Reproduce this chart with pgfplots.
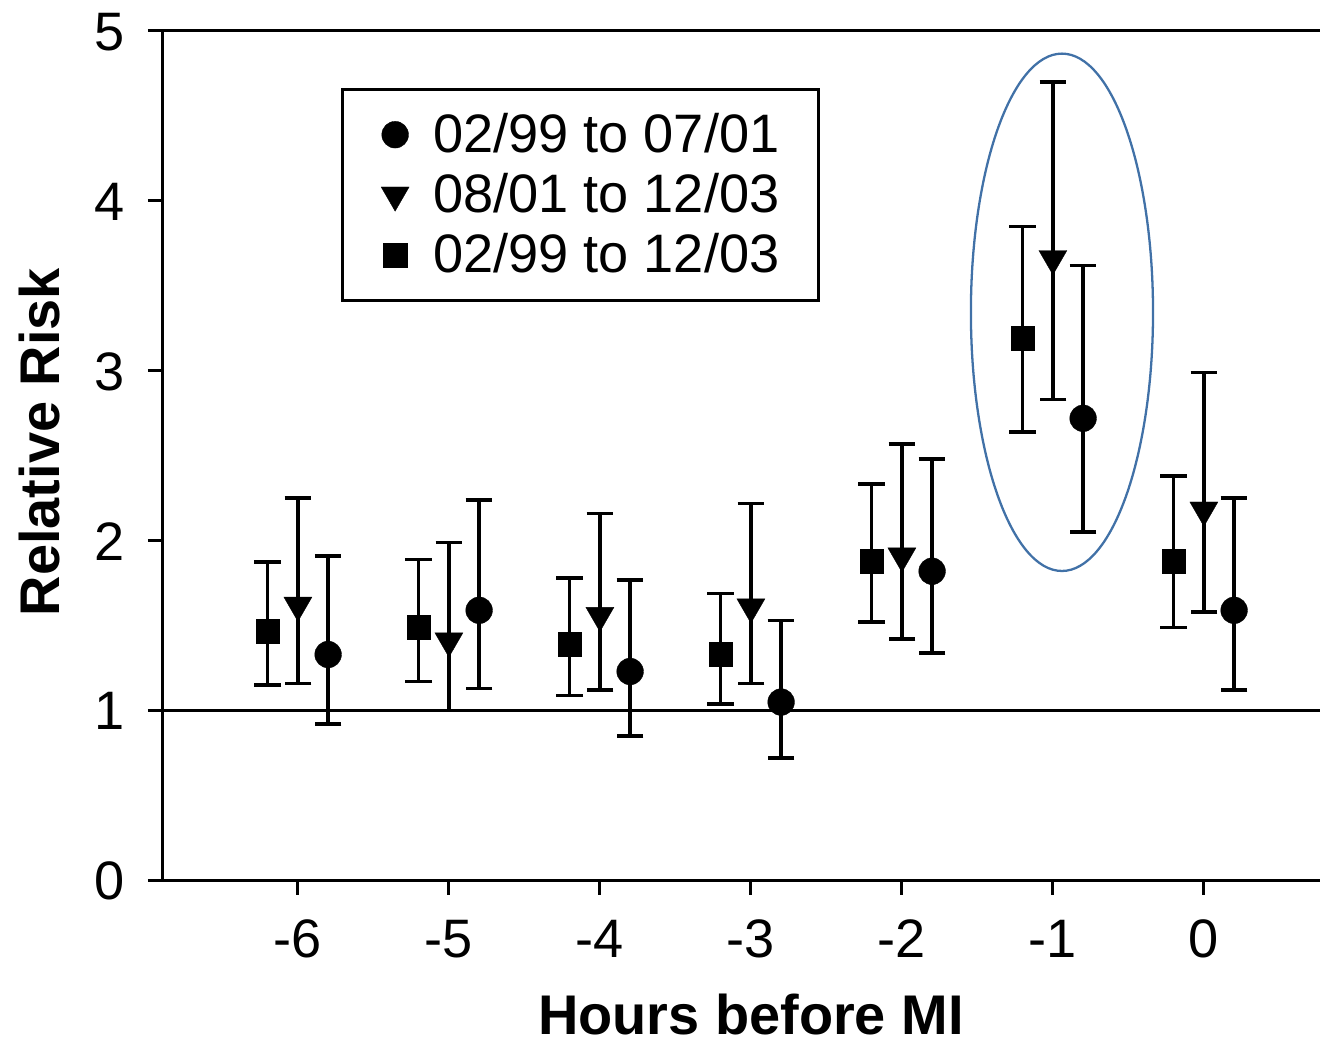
\documentclass[border=0pt]{standalone}
\usepackage{fontspec}
\setmainfont{Liberation Sans}
\usepackage{pgfplots}
\usepackage{pgfplotstable}
\pgfplotsset{compat=1.18}

\definecolor{ringblue}{RGB}{65,113,167}
\newcommand{\lbl}{\fontsize{15.4}{18}\selectfont}
\newcommand{\blbl}{\fontsize{15.9}{18}\selectfont\bfseries}

% x = hour + offset, y = relative risk, lo/hi = confidence limits
\pgfplotstableread{
x     y     lo    hi
-5.8  1.33  0.92  1.91
-4.8  1.59  1.13  2.24
-3.8  1.23  0.85  1.77
-2.8  1.05  0.72  1.53
-1.8  1.82  1.34  2.48
-0.8  2.72  2.05  3.62
 0.2  1.59  1.12  2.25
}\earlydata

\pgfplotstableread{
x     y     lo    hi
-6    1.62  1.16  2.25
-5    1.41  1.00  1.99
-4    1.56  1.12  2.16
-3    1.61  1.16  2.22
-2    1.91  1.42  2.57
-1    3.66  2.83  4.70
 0    2.18  1.58  2.99
}\latedata

\pgfplotstableread{
x     y     lo    hi
-6.2  1.465 1.15  1.875
-5.2  1.49  1.17  1.89
-4.2  1.39  1.09  1.78
-3.2  1.33  1.04  1.69
-2.2  1.88  1.52  2.335
-1.2  3.19  2.64  3.85
-0.2  1.88  1.49  2.38
}\alldata

\pgfplotsset{
  ebar/.style={
    forget plot, only marks,
    error bars/y dir=both, error bars/y explicit,
    error bars/error bar style={line width=1pt, black},
    error bars/error mark options={rotate=90, line width=1pt, black, mark size=3.8pt},
  },
}

\begin{document}
\begin{tikzpicture}
\begin{axis}[
  scale only axis, width=11.77cm, height=8.49cm,
  xmin=-6.9, xmax=0.9, ymin=0, ymax=5,
  clip=false,
  axis x line=bottom, axis y line=left,
  axis line style={-, line width=0.85pt, black},
  xtick={-6,...,0}, xticklabels={-6,-5,-4,-3,-2,-1,0},
  ytick={0,...,5}, yticklabels={0,1,2,3,4,5},
  tick align=outside, major tick length=4pt,
  tick style={line width=0.85pt, black},
  tick label style={font=\lbl, inner sep=0pt, text height=11pt, text depth=0pt},
  xticklabel style={anchor=north, yshift=-6.8pt},
  yticklabel style={anchor=east, xshift=-6.5pt},
  xlabel={Hours before MI}, ylabel={Relative Risk},
  label style={font=\blbl, inner sep=0pt},
  xlabel style={at={(axis description cs:0.5,-0.1814)}, anchor=base},
  ylabel style={at={(axis description cs:-0.0867,0.516)}, anchor=base},
  legend style={at={(axis cs:-5.715,4.665)}, anchor=north west,
    draw=black, line width=0.85pt, font=\lbl,
    inner xsep=11pt, inner ysep=6.9pt, row sep=5.15pt, column sep=6.8pt,
    nodes={inner sep=0pt, text height=11pt, text depth=1pt}},
  legend cell align=left,
]
\draw[line width=0.75pt] (axis cs:-6.9,1) -- (axis cs:0.9,1);
\draw[line width=0.85pt] (axis cs:-6.9,5) -- (axis cs:0.9,5);

\addlegendimage{only marks, mark=*, mark size=3.8pt, mark options={fill=black, line width=0.1pt}}
\addlegendentry{02/99 to 07/01}
\addlegendimage{only marks, mark=triangle*, mark size=4.6pt, mark options={rotate=180, fill=black, line width=0.1pt}}
\addlegendentry{08/01 to 12/03}
\addlegendimage{only marks, mark=square*, mark size=3.4pt, mark options={fill=black, line width=0.1pt}}
\addlegendentry{02/99 to 12/03}

\addplot[ebar, mark=*, mark size=3.8pt, mark options={fill=black, line width=0.1pt}]
  table[x=x, y=y, y error plus expr={\thisrow{hi}-\thisrow{y}}, y error minus expr={\thisrow{y}-\thisrow{lo}}] {\earlydata};
\addplot[ebar, mark=triangle*, mark size=4.6pt, mark options={rotate=180, fill=black, line width=0.1pt}]
  table[x=x, y=y, y error plus expr={\thisrow{hi}-\thisrow{y}}, y error minus expr={\thisrow{y}-\thisrow{lo}}] {\latedata};
\addplot[ebar, mark=square*, mark size=3.4pt, mark options={fill=black, line width=0.1pt}]
  table[x=x, y=y, y error plus expr={\thisrow{hi}-\thisrow{y}}, y error minus expr={\thisrow{y}-\thisrow{lo}}] {\alldata};

\draw[ringblue, line width=0.65pt] (axis cs:-0.94,3.344) ellipse [x radius=0.91cm, y radius=2.585cm];

\coordinate (bbl) at (axis cs:-7.973,-0.947);
\coordinate (btr) at (axis cs:0.769,5.182);
\end{axis}
\pgfresetboundingbox
\path[use as bounding box] (bbl) rectangle (btr);
\end{tikzpicture}
\end{document}
